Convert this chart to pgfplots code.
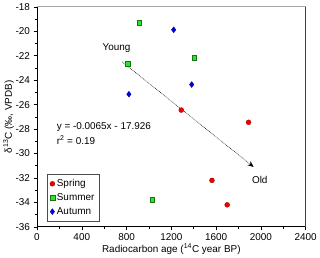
\documentclass[border=0pt]{standalone}
\usepackage{pgfplots}
\pgfplotsset{compat=1.18}
\usepackage{fontspec}
\setmainfont{Liberation Sans}
\usetikzlibrary{arrows.meta}
\definecolor{sprg}{RGB}{240,0,0}
\definecolor{summ}{RGB}{40,230,40}
\definecolor{autm}{RGB}{0,0,230}
\begin{document}
\begin{tikzpicture}
\begin{axis}[
  scale only axis,
  width=269.5bp, height=220.7bp,
  xmin=0, xmax=2400, ymin=-36, ymax=-18,
  xtick={0,400,...,2400}, ytick={-36,-34,...,-18},
  minor x tick num=1, minor y tick num=1,
  tick align=outside,
  axis x line*=bottom, axis y line*=left,
  major tick length=3.5bp, minor tick length=2.2bp,
  tick style={black, line width=0.5pt},
  axis line style={black, line width=0.7pt},
  /pgf/number format/assume math mode=true,
  /pgf/number format/.cd, 1000 sep={}, /pgfplots/.cd,
  ticklabel style={font=\fontsize{10}{12}\selectfont},
  xlabel={Radiocarbon age (\textsuperscript{14}C year BP)},
  ylabel={δ\textsuperscript{13}C (‰, VPDB)},
  label style={font=\fontsize{10}{12}\selectfont},
  xlabel style={yshift=4bp},
  ylabel style={yshift=-5bp},
  legend style={at={(0.036,0.239)}, anchor=north west, draw=black!70, line width=0.5pt,
    font=\fontsize{10}{12}\selectfont, row sep=1.5pt, inner sep=3pt},
  legend cell align=left,
  clip=false,
]
\addplot[only marks, mark=*, mark size=2.5bp, mark options={fill=sprg, draw=sprg!60!black, line width=0.3pt}]
  coordinates {(1289,-26.45) (1890,-27.45) (1563,-32.2) (1699,-34.2)};
\addlegendentry{Spring}
\addplot[only marks, mark=square*, mark size=2.3bp, mark options={fill=summ, draw=summ!50!black, line width=0.3pt}]
  coordinates {(913,-19.3) (812,-22.65) (1403,-22.16) (1028,-33.8)};
\addlegendentry{Summer}
\addplot[only marks, mark=diamond*, mark size=3bp, mark options={fill=autm, draw=autm!60!black, line width=0.3pt}]
  coordinates {(821,-25.15) (1221,-19.88) (1382,-24.36)};
\addlegendentry{Autumn}
\draw[black, line width=0.5pt, dash pattern=on 0.8pt off 0.9pt, -{Stealth[length=6bp,width=5bp]}] (axis cs:760,-22.5) -- (axis cs:1935,-31.1);
\node[font=\fontsize{10}{12}\selectfont] at (axis cs:711,-21.4) {Young};
\node[font=\fontsize{10}{12}\selectfont] at (axis cs:1990,-32.2) {Old};
\node[font=\fontsize{10}{12}\selectfont, anchor=west, inner sep=0pt] at (axis cs:175,-27.87) {y = -0.0065x - 17.926};
\node[font=\fontsize{10}{12}\selectfont, anchor=west, inner sep=0pt] at (axis cs:175,-28.93) {r\textsuperscript{2} = 0.19};
\draw[black!35, line width=1pt] (axis cs:0,-18) -- (axis cs:2400,-18);
\draw[black!75, line width=1.3pt] (axis cs:2400,-36) -- (axis cs:2400,-18);
\end{axis}
\end{tikzpicture}
\end{document}
